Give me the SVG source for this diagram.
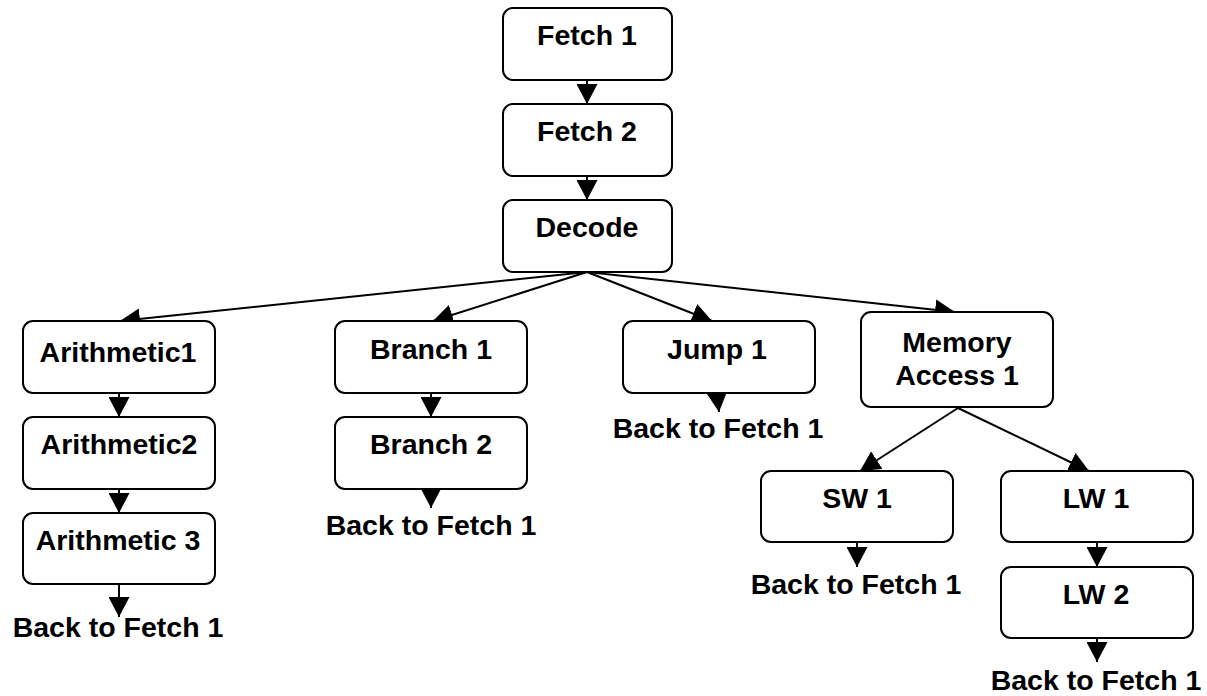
<svg xmlns="http://www.w3.org/2000/svg" width="1207" height="696" viewBox="0 0 1207 696">
  <defs>
    <style>
      .box { fill: #ffffff; stroke: #000000; stroke-width: 2; }
      .lbl { font-family: "Liberation Sans", Arial, Helvetica, sans-serif; font-weight: bold; font-size: 28.5px; fill: #000000; text-anchor: middle; }
      .edge { fill: none; stroke: #000000; stroke-width: 2; marker-end: url(#arrow); }
    </style>
    <marker id="arrow" markerUnits="userSpaceOnUse" markerWidth="21" markerHeight="21" refX="20" refY="10.5" orient="auto">
      <path d="M0,0 L20,10.5 L0,21 z" fill="#000000"/>
    </marker>
  </defs>
  <rect width="1207" height="696" fill="#ffffff"/>

  <g id="connectors">
    <line class="edge" x1="587" y1="80" x2="587" y2="104"/>
    <line class="edge" x1="587" y1="176" x2="587" y2="200"/>
    <line class="edge" x1="587" y1="272" x2="120" y2="321"/>
    <line class="edge" x1="587" y1="272" x2="433" y2="321"/>
    <line class="edge" x1="587" y1="272" x2="712" y2="321"/>
    <line class="edge" x1="587" y1="272" x2="955" y2="312"/>
    <line class="edge" x1="119" y1="393" x2="119" y2="417"/>
    <line class="edge" x1="119" y1="489" x2="119" y2="513"/>
    <line class="edge" x1="119" y1="584" x2="119" y2="617"/>
    <line class="edge" x1="431" y1="393" x2="431" y2="417"/>
    <line class="edge" x1="431" y1="489" x2="431" y2="508"/>
    <line class="edge" x1="717" y1="393" x2="719" y2="412"/>
    <line class="edge" x1="958" y1="408" x2="860" y2="471"/>
    <line class="edge" x1="958" y1="408" x2="1089" y2="471"/>
    <line class="edge" x1="857" y1="542" x2="857" y2="567"/>
    <line class="edge" x1="1097" y1="542" x2="1097" y2="567"/>
    <line class="edge" x1="1097" y1="638" x2="1097" y2="662"/>
  </g>

  <g id="fetch1"><rect class="box" x="503" y="8" width="169" height="72" rx="10"/><text class="lbl" x="587" y="45">Fetch 1</text></g>
  <g id="fetch2"><rect class="box" x="503" y="104" width="169" height="72" rx="10"/><text class="lbl" x="587" y="141">Fetch 2</text></g>
  <g id="decode"><rect class="box" x="503" y="200" width="169" height="72" rx="10"/><text class="lbl" x="587" y="237">Decode</text></g>

  <g id="arith1"><rect class="box" x="23" y="321" width="192" height="72" rx="10"/><text class="lbl" x="118" y="362">Arithmetic1</text></g>
  <g id="arith2"><rect class="box" x="23" y="417" width="192" height="72" rx="10"/><text class="lbl" x="119" y="454">Arithmetic2</text></g>
  <g id="arith3"><rect class="box" x="23" y="513" width="192" height="71" rx="10"/><text class="lbl" x="118" y="550">Arithmetic 3</text></g>
  <g id="back-arith"><text class="lbl" x="118" y="637">Back to Fetch 1</text></g>

  <g id="branch1"><rect class="box" x="335" y="321" width="192" height="72" rx="10"/><text class="lbl" x="431" y="359">Branch 1</text></g>
  <g id="branch2"><rect class="box" x="335" y="417" width="192" height="72" rx="10"/><text class="lbl" x="431" y="454">Branch 2</text></g>
  <g id="back-branch"><text class="lbl" x="431" y="535">Back to Fetch 1</text></g>

  <g id="jump1"><rect class="box" x="623" y="321" width="192" height="72" rx="10"/><text class="lbl" x="717" y="359">Jump 1</text></g>
  <g id="back-jump"><text class="lbl" x="718" y="438">Back to Fetch 1</text></g>

  <g id="mem1"><rect class="box" x="861" y="312" width="192" height="95" rx="10"/><text class="lbl" x="957" y="352">Memory</text><text class="lbl" x="957" y="385">Access 1</text></g>

  <g id="sw1"><rect class="box" x="761" y="471" width="192" height="71" rx="10"/><text class="lbl" x="857" y="508">SW 1</text></g>
  <g id="back-sw"><text class="lbl" x="856" y="594">Back to Fetch 1</text></g>

  <g id="lw1"><rect class="box" x="1001" y="471" width="192" height="71" rx="10"/><text class="lbl" x="1096" y="508">LW 1</text></g>
  <g id="lw2"><rect class="box" x="1001" y="567" width="192" height="71" rx="10"/><text class="lbl" x="1096" y="604">LW 2</text></g>
  <g id="back-lw"><text class="lbl" x="1096" y="690">Back to Fetch 1</text></g>
</svg>
